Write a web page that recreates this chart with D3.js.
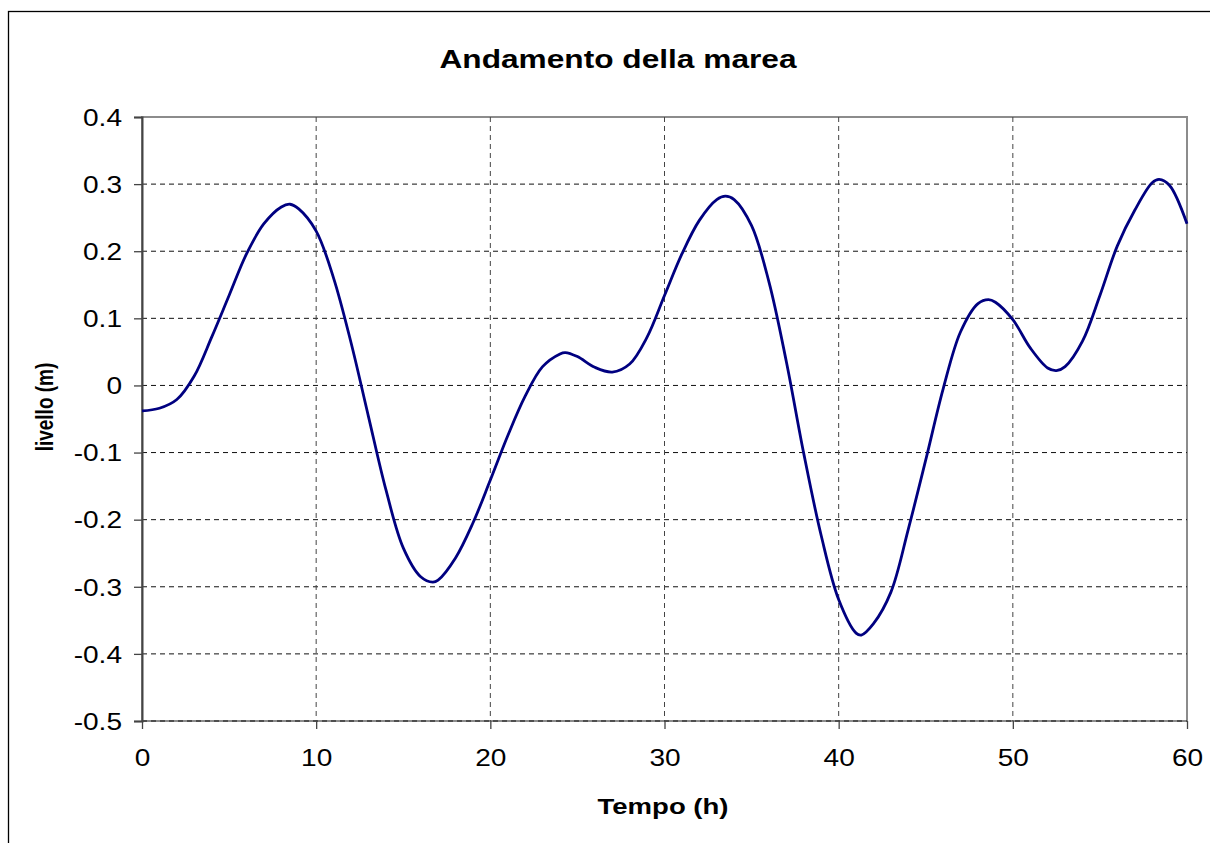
<!DOCTYPE html>
<html><head><meta charset="utf-8">
<script src="https://cdn.jsdelivr.net/npm/d3@7/dist/d3.min.js"></script>
<style>body{margin:0;background:#fff;}svg{display:block;font-family:"Liberation Sans",Arial,sans-serif;}</style>
</head><body>
<svg id="chart" width="1210" height="843"></svg>
<script>
const hours = [0,1,2,3,4,5,6,7,8,8.5,9,10,11,12,13,14,15,16,16.7,17,18,19,20,21,22,23,24,24.3,25,26,27,28,29,30,31,32,33,33.5,34,35,36,37,38,39,40,41,41.3,42,43,44,45,46,47,48,48.6,49,50,51,52,52.5,53,54,55,56,57,58,58.4,59,60];
const level = [-0.038,-0.034,-0.021,0.014,0.072,0.134,0.196,0.241,0.266,0.270,0.263,0.230,0.160,0.064,-0.046,-0.155,-0.242,-0.285,-0.293,-0.290,-0.257,-0.205,-0.141,-0.075,-0.016,0.028,0.047,0.049,0.043,0.027,0.020,0.032,0.072,0.134,0.196,0.246,0.277,0.282,0.277,0.238,0.154,0.035,-0.102,-0.224,-0.319,-0.369,-0.372,-0.355,-0.308,-0.214,-0.111,-0.005,0.080,0.122,0.128,0.124,0.098,0.056,0.026,0.022,0.028,0.066,0.134,0.208,0.261,0.302,0.307,0.298,0.241];
const xTicks = [0,10,20,30,40,50,60];
const yTicks = [-0.5,-0.4,-0.3,-0.2,-0.1,0,0.1,0.2,0.3,0.4];
const title = "Andamento della marea";
const xTitle = "Tempo (h)";
const yTitle = "livello (m)";

const STRETCH = 1.22; // horizontal text stretch seen in the reference
const svg = d3.select("#chart");
const L = 142, R = 1187, T = 117, B = 721;
const x = d3.scaleLinear().domain([0,60]).range([L,R]);
const y = d3.scaleLinear().domain([-0.5,0.4]).range([B,T]);

function stretch(sel, k){
  sel.each(function(){
    const w = this.getComputedTextLength();
    d3.select(this).attr("textLength", w*k).attr("lengthAdjust","spacingAndGlyphs");
  });
}

// outer frame
svg.append("rect").attr("x",8.5).attr("y",11.5).attr("width",1230).attr("height",900)
  .attr("fill","none").attr("stroke","#000").attr("stroke-width",1.3);

// plot border
svg.append("rect").attr("x",L).attr("y",T).attr("width",R-L).attr("height",B-T)
  .attr("fill","none").attr("stroke","#8c8c8c").attr("stroke-width",2);

// grid
const g = svg.append("g");
g.selectAll("line.h").data(yTicks.filter(v=>v<0.4)).join("line")
  .attr("x1",L).attr("x2",R).attr("y1",d=>y(d)).attr("y2",d=>y(d))
  .attr("stroke","#111").attr("stroke-width",1).attr("stroke-dasharray","5,4");
g.selectAll("line.v").data(xTicks.filter(v=>v>0 && v<60)).join("line")
  .attr("y1",T).attr("y2",B).attr("x1",d=>x(d)).attr("x2",d=>x(d))
  .attr("stroke","#444").attr("stroke-width",1).attr("stroke-dasharray","5,4");

// axes
const fmt = d => String(Math.round(d*10)/10);
const yAxis = d3.axisLeft(y).tickValues(yTicks).tickSize(8).tickPadding(12).tickFormat(fmt);
const ya = svg.append("g").attr("transform",`translate(${L},0)`).call(yAxis);
ya.select(".domain").attr("stroke","#444").attr("stroke-width",2);
ya.selectAll(".tick line").attr("stroke","#444").attr("stroke-width",1.3);
ya.selectAll("text").attr("font-size",23).attr("fill","#000")
  .attr("font-family","'Liberation Sans',Arial,sans-serif").attr("dy","0.36em");
stretch(ya.selectAll("text"), STRETCH);

const xAxis = d3.axisBottom(x).tickValues(xTicks).tickSize(8).tickPadding(21).tickFormat(fmt);
const xa = svg.append("g").attr("transform",`translate(0,${B})`).call(xAxis);
xa.select(".domain").remove();
xa.selectAll(".tick line").attr("stroke","#444").attr("stroke-width",1.3);
xa.selectAll("text").attr("font-size",23).attr("fill","#000")
  .attr("font-family","'Liberation Sans',Arial,sans-serif");
stretch(xa.selectAll("text"), STRETCH);

// line
const line = d3.line().x((d,i)=>x(hours[i])).y(d=>y(d)).curve(d3.curveCatmullRom.alpha(0.5));
svg.append("path").datum(level).attr("d",line).attr("fill","none")
  .attr("stroke","#000080").attr("stroke-width",2.8);

// titles
svg.append("text").attr("x",618).attr("y",68).attr("text-anchor","middle")
  .attr("font-size",25).attr("font-weight","bold")
  .attr("textLength",357).attr("lengthAdjust","spacingAndGlyphs").text(title);
svg.append("text").attr("x",663).attr("y",814).attr("text-anchor","middle")
  .attr("font-size",22).attr("font-weight","bold")
  .attr("textLength",131).attr("lengthAdjust","spacingAndGlyphs").text(xTitle);
svg.append("text").attr("transform",`translate(53,407) scale(${STRETCH},1) rotate(-90)`).attr("text-anchor","middle")
  .attr("font-size",19).attr("font-weight","bold").text(yTitle);
</script>
</body></html>
